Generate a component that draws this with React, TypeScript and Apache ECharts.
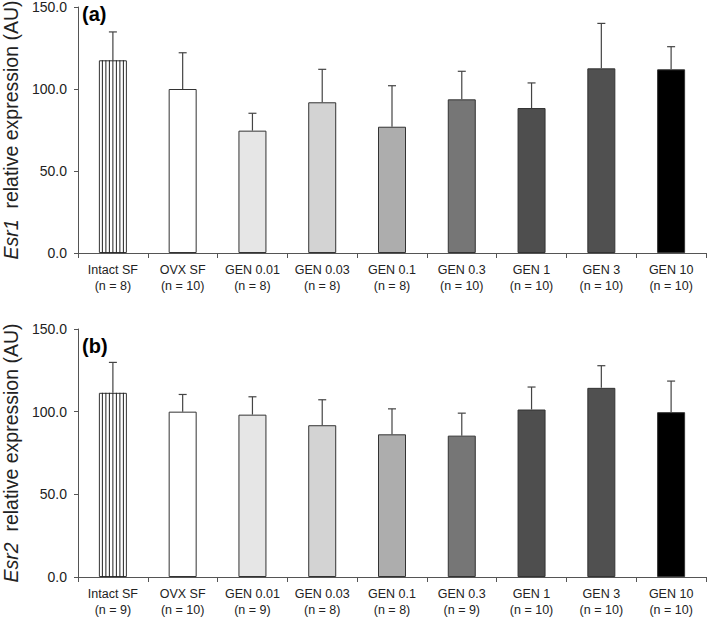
import React, { useEffect, useRef } from "react";
import * as echarts from "echarts";

const categories = ["Intact SF", "OVX SF", "GEN 0.01", "GEN 0.03", "GEN 0.1", "GEN 0.3", "GEN 1", "GEN 3", "GEN 10"];
const nEsr1 = [8, 10, 8, 8, 8, 10, 10, 10, 10];
const nEsr2 = [9, 10, 9, 8, 8, 9, 10, 10, 10];
const esr1Mean = [117.5, 100, 74.6, 91.9, 77, 93.7, 88.4, 112.6, 112];
const esr1Err = [17.3, 22.1, 10.6, 20.1, 25, 17.1, 15.3, 27.4, 13.8];
const esr2Mean = [111.4, 100, 98.2, 91.8, 86.3, 85.5, 101.3, 114.4, 99.7];
const esr2Err = [18.4, 10.4, 10.8, 15.4, 15.4, 13.6, 13.6, 13.4, 18.8];
const yTicks = [0, 50, 100, 150];
const barColors = ["#ffffff", "#ffffff", "#e6e6e6", "#d3d3d3", "#adadad", "#767676", "#4e4e4e", "#505050", "#000000"];

const FONT = "'Liberation Sans', Arial, sans-serif";
const AXIS_COLOR = "#555";
const BORDER = "#333";

function errRender(params: any, api: any) {
  const i = api.value(0);
  const m = api.value(1);
  const u = api.value(2);
  const p0 = api.coord([i, m]);
  const p1 = api.coord([i, u]);
  const style = { stroke: "#444", lineWidth: 1.2 };
  return {
    type: "group",
    children: [
      { type: "line", shape: { x1: p0[0], y1: p0[1], x2: p1[0], y2: p1[1] }, style },
      { type: "line", shape: { x1: p1[0] - 4, y1: p1[1], x2: p1[0] + 4, y2: p1[1] }, style },
    ],
  };
}

function stripeRender(params: any, api: any) {
  const i = api.value(0);
  const m = api.value(1);
  const top = api.coord([i, m]);
  const base = api.coord([i, 0]);
  const w = 28;
  const left = top[0] - w / 2;
  const children: any[] = [];
  for (let k = 1; k < 8; k++) {
    const x = left + (w * k) / 8;
    children.push({
      type: "line",
      shape: { x1: x, y1: top[1], x2: x, y2: base[1] },
      style: { stroke: "#222", lineWidth: 1 },
    });
  }
  return { type: "group", children };
}

function yAxis(gridIndex: number, gene: string) {
  return {
    type: "value",
    gridIndex,
    min: 0,
    max: 150,
    interval: 50,
    name: `{i|${gene}}  relative expression (AU)`,
    nameLocation: "middle",
    nameGap: 57,
    nameTextStyle: {
      fontFamily: FONT,
      fontSize: 19.5,
      color: "#222",
      rich: { i: { fontFamily: FONT, fontSize: 19.5, fontStyle: "italic", color: "#222" } },
    },
    axisLine: { show: true, lineStyle: { color: AXIS_COLOR, width: 1 } },
    axisTick: { show: true, length: 4, lineStyle: { color: AXIS_COLOR } },
    axisLabel: {
      fontFamily: FONT,
      fontSize: 14,
      color: "#222",
      margin: 11,
      formatter: (v: number) => (yTicks.includes(v) ? v.toFixed(1) : ""),
    },
    splitLine: { show: false },
  };
}

function xAxis(gridIndex: number, ns: number[]) {
  return {
    type: "category",
    gridIndex,
    data: categories,
    axisLine: { show: true, lineStyle: { color: AXIS_COLOR, width: 1 } },
    axisTick: { show: true, length: 5, lineStyle: { color: AXIS_COLOR } },
    axisLabel: {
      interval: 0,
      fontFamily: FONT,
      fontSize: 12.5,
      color: "#222",
      lineHeight: 16,
      margin: 9,
      formatter: (v: string, idx: number) => `${v}\n(n = ${ns[idx]})`,
    },
  };
}

function barSeries(idx: number, means: number[]) {
  return {
    type: "bar",
    xAxisIndex: idx,
    yAxisIndex: idx,
    barWidth: 28,
    data: means.map((v, i) => ({
      value: v,
      itemStyle: { color: barColors[i], borderColor: BORDER, borderWidth: 1 },
    })),
  };
}

function errSeries(idx: number, means: number[], errs: number[]) {
  return {
    type: "custom",
    xAxisIndex: idx,
    yAxisIndex: idx,
    renderItem: errRender,
    encode: { x: 0, y: 2 },
    data: means.map((m, i) => [i, m, m + errs[i]]),
    z: 5,
  };
}

function stripeSeries(idx: number, means: number[]) {
  return {
    type: "custom",
    xAxisIndex: idx,
    yAxisIndex: idx,
    renderItem: stripeRender,
    encode: { x: 0, y: 1 },
    data: [[0, means[0]]],
    z: 4,
  };
}

export default function App() {
  const ref = useRef<HTMLDivElement>(null);
  useEffect(() => {
    if (!ref.current) return;
    const chart = echarts.init(ref.current, undefined, { renderer: "svg" });
    chart.setOption({
      animation: false,
      backgroundColor: "#ffffff",
      grid: [
        { left: 78, top: 7, width: 628, height: 246, containLabel: false, outerBoundsMode: "none" },
        { left: 78, top: 329, width: 628, height: 248, containLabel: false, outerBoundsMode: "none" },
      ],
      xAxis: [xAxis(0, nEsr1), xAxis(1, nEsr2)],
      yAxis: [yAxis(0, "Esr1"), yAxis(1, "Esr2")],
      series: [
        barSeries(0, esr1Mean),
        stripeSeries(0, esr1Mean),
        errSeries(0, esr1Mean, esr1Err),
        barSeries(1, esr2Mean),
        stripeSeries(1, esr2Mean),
        errSeries(1, esr2Mean, esr2Err),
      ],
      graphic: [
        { type: "text", left: 82, top: 4, style: { text: "(a)", fontFamily: FONT, fontSize: 20, fontWeight: "bold", fill: "#000" } },
        { type: "text", left: 82, top: 336, style: { text: "(b)", fontFamily: FONT, fontSize: 20, fontWeight: "bold", fill: "#000" } },
      ],
    });
    return () => chart.dispose();
  }, []);
  return <div ref={ref} style={{ position: "absolute", left: 0, top: 0, width: 708, height: 618 }} />;
}
